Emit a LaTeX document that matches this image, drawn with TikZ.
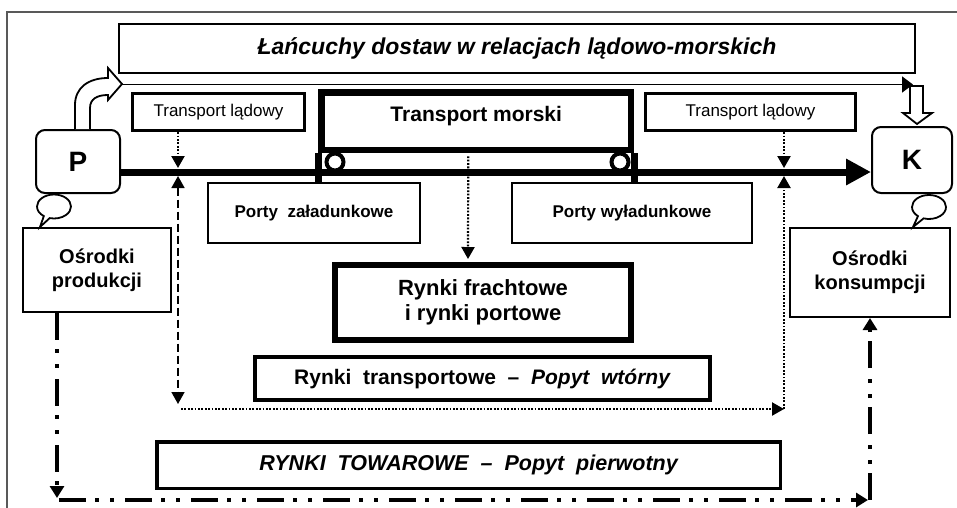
\documentclass[tikz,border=0pt]{standalone}
\usepackage{fontspec}
\setmainfont{Liberation Sans}
\usetikzlibrary{arrows.meta,calc,shapes.callouts}
\begin{document}
\begin{tikzpicture}[x=1pt,y=-1pt,
  box/.style={draw,line width=2pt,fill=white,inner sep=0pt,align=center,font=\bfseries},
  rbox/.style={box,rounded corners=9pt},
  dotline/.style={line width=2.2pt,dash pattern=on 1.8pt off 1.6pt},
  dashline/.style={line width=1.6pt,dash pattern=on 8pt off 4pt},
  ddline/.style={line width=3.5pt,dash pattern=on 27pt off 9pt on 4pt off 11pt on 4pt off 11pt},
  tip/.style={-{Triangle[length=12pt,width=13pt]}},
  bubble/.style={ellipse callout,draw,line width=1.8pt,fill=white,minimum width=34pt,minimum height=24pt,inner sep=0pt,callout pointer arc=22}
]
\useasboundingbox (0,0) rectangle (957,507);
\begin{scope}
\clip (0,0) rectangle (957,507);
\draw[gray!70!black,line width=2pt] (7,12) rectangle (975,525);
\end{scope}

% title
\node[box,font=\bfseries\itshape\fontsize{23}{26}\selectfont,minimum width=796pt,minimum height=49pt] (title) at (517,48.5) {Łańcuchy dostaw w relacjach lądowo-morskich};

% P and K
\node[rbox,font=\bfseries\fontsize{28}{30}\selectfont,minimum width=84pt,minimum height=63pt] (p) at (78,161.5) {P};
\node[rbox,font=\bfseries\fontsize{28}{30}\selectfont,minimum width=80pt,minimum height=66pt] (k) at (912,160) {K};

% curved block arrow from P
\draw[line width=1.8pt,fill=white,line join=miter]
  ($(p.north)+(-3,0)$) -- (75,105) .. controls (75,88) and (88,78) .. (108,78)
  -- (108,68) -- (122,84) -- (108,100) -- (108,95)
  .. controls (97,95) and (90,99) .. (90,108) -- ($(p.north)+(12,0)$);
\coordinate (chainS) at (122,84.5);
\coordinate (chainE) at (913,84.5);
\draw[line width=1.5pt,-{Triangle[length=11pt,width=16pt]}] (chainS) -- (chainE);
% hollow down arrow to K
\draw[line width=1.8pt,fill=white,line join=miter]
  (910,86) -- (910,113) -- (903,113) -- (917,124) -- (932,113) -- (923,113) -- (923,86) -- cycle;

% land transport boxes
\node[box,line width=3.5pt,font=\fontsize{17}{20}\selectfont,minimum width=172pt,minimum height=37pt] (tl1) at (218.5,112) {Transport lądowy};
\node[box,line width=3.5pt,font=\fontsize{17}{20}\selectfont,minimum width=210pt,minimum height=37pt] (tl2) at (750.5,112) {Transport lądowy};

% sea transport (cart)
\node[box,line width=6.5pt,minimum width=309.5pt,minimum height=57.5pt,
  label={[font=\bfseries\fontsize{21}{24}\selectfont,yshift=5pt]center:Transport morski}] (tm) at (476.25,121.25) {};
\draw[line width=6.5pt] (tm.south west) -- ++(0,33);
\draw[line width=6.5pt] (tm.south east) -- ++(0,33);

% main flow
\draw[line width=7pt,-{Triangle[length=25pt,width=25pt]}] ($(p.east)+(0,10.5)$) -- ($(k.west)+(0,12)$);
\draw[line width=4pt,fill=white] (335,162) circle (8.5pt);
\draw[line width=4pt,fill=white] (620,162) circle (8.5pt);

% ports
\node[box,font=\bfseries\fontsize{17}{20}\selectfont,minimum width=212pt,minimum height=60pt] (pz) at (314,213) {Porty\ \ załadunkowe};
\node[box,font=\bfseries\fontsize{17}{20}\selectfont,minimum width=240pt,minimum height=60pt] (pw) at (632,213) {Porty wyładunkowe};

% centres
\node[box,font=\bfseries\fontsize{20}{24}\selectfont,minimum width=148pt,minimum height=84pt] (op) at (97,270) {Ośrodki\\produkcji};
\node[box,font=\bfseries\fontsize{20}{24}\selectfont,minimum width=160pt,minimum height=89pt] (ok) at (870,272.5) {Ośrodki\\konsumpcji};
\node[bubble,callout absolute pointer={(40,227)}] (b1) at (54,206.5) {};
\node[bubble,callout absolute pointer={(913,227)}] (b2) at (929,207) {};

% markets
\node[box,line width=6pt,font=\bfseries\fontsize{22}{25}\selectfont,minimum width=296pt,minimum height=75pt] (rf) at (483,302.5) {Rynki frachtowe\\i rynki portowe};
\node[box,line width=4pt,font=\bfseries\fontsize{21}{24}\selectfont,minimum width=455pt,minimum height=43pt] (rt) at (482.5,378.5) {Rynki\ \ transportowe\ \ –\ \ \textit{Popyt\ \ wtórny}};
\node[box,line width=3.5pt,font=\bfseries\itshape\fontsize{21.5}{24}\selectfont,minimum width=623.5pt,minimum height=46.5pt] (rw) at (468.5,465) {RYNKI\ \ TOWAROWE\ \ –\ \ Popyt\ \ pierwotny};

% dotted/dashed links
\draw[dotline,tip] (tl1.south) ++(-40.5,0) coordinate (a1) -- (a1 |- 0,168);
\draw[dotline,tip] (tl2.south) ++(33.5,0) coordinate (a2) -- (a2 |- 0,168);
\draw[dotline,tip] ($(tm.south)+(-8,3)$) -- ($(rf.north)+(-15,-3)$);
\coordinate (ld) at (178,404);
\coordinate (rd) at (784,409);
\draw[dashline,{Triangle[length=12pt,width=13pt]}-{Triangle[length=12pt,width=13pt]}] (178,176) -- (ld);
\draw[dotline,tip] ($(ld)+(3,5)$) -- (rd);
\draw[dotline,tip] (rd) -- (784,176);

% goods flow
\coordinate (gl) at (57,500);
\coordinate (gr) at (870,500);
\draw[ddline,-{Triangle[length=12pt,width=14pt]}] (op.south -| gl) -- ($(gl)+(0,-2)$);
\draw[ddline,-{Triangle[length=12pt,width=14pt]}] ($(gl)+(2,0)$) -- ($(gr)+(-2,0)$);
\draw[ddline,-{Triangle[length=12pt,width=14pt]}] (gr) -- (ok.south -| gr);
\end{tikzpicture}
\end{document}
